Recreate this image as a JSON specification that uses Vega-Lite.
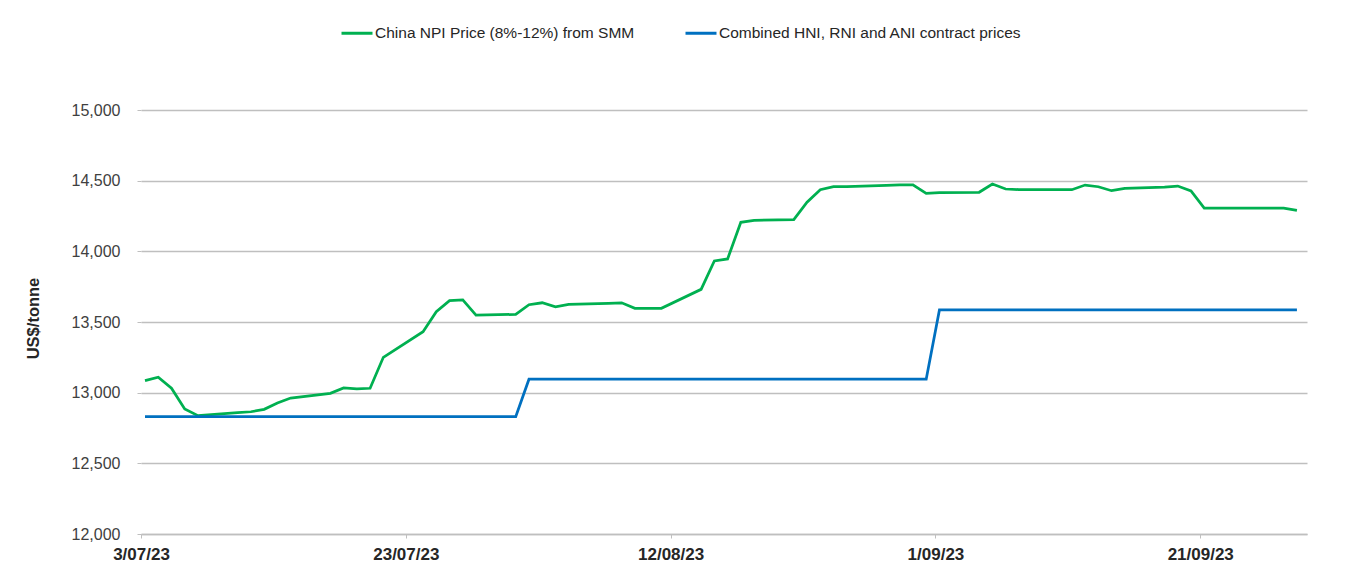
{
  "$schema": "https://vega.github.io/schema/vega-lite/v6.json",
  "width": 1166,
  "height": 424,
  "autosize": {"type": "none"},
  "padding": {"left": 141, "top": 110, "right": 46, "bottom": 39},
  "background": "white",
  "config": {
    "view": {"stroke": null},
    "font": "Liberation Sans"
  },
  "data": {
    "values": [
      {"date": "2023-07-03", "series": "China NPI Price (8%-12%) from SMM", "value": 13085},
      {"date": "2023-07-04", "series": "China NPI Price (8%-12%) from SMM", "value": 13109},
      {"date": "2023-07-05", "series": "China NPI Price (8%-12%) from SMM", "value": 13031},
      {"date": "2023-07-06", "series": "China NPI Price (8%-12%) from SMM", "value": 12884},
      {"date": "2023-07-07", "series": "China NPI Price (8%-12%) from SMM", "value": 12837},
      {"date": "2023-07-10", "series": "China NPI Price (8%-12%) from SMM", "value": 12858},
      {"date": "2023-07-11", "series": "China NPI Price (8%-12%) from SMM", "value": 12865},
      {"date": "2023-07-12", "series": "China NPI Price (8%-12%) from SMM", "value": 12882},
      {"date": "2023-07-13", "series": "China NPI Price (8%-12%) from SMM", "value": 12927},
      {"date": "2023-07-14", "series": "China NPI Price (8%-12%) from SMM", "value": 12962},
      {"date": "2023-07-17", "series": "China NPI Price (8%-12%) from SMM", "value": 12995},
      {"date": "2023-07-18", "series": "China NPI Price (8%-12%) from SMM", "value": 13033},
      {"date": "2023-07-19", "series": "China NPI Price (8%-12%) from SMM", "value": 13026},
      {"date": "2023-07-20", "series": "China NPI Price (8%-12%) from SMM", "value": 13031},
      {"date": "2023-07-21", "series": "China NPI Price (8%-12%) from SMM", "value": 13250},
      {"date": "2023-07-24", "series": "China NPI Price (8%-12%) from SMM", "value": 13431},
      {"date": "2023-07-25", "series": "China NPI Price (8%-12%) from SMM", "value": 13573},
      {"date": "2023-07-26", "series": "China NPI Price (8%-12%) from SMM", "value": 13651},
      {"date": "2023-07-27", "series": "China NPI Price (8%-12%) from SMM", "value": 13656},
      {"date": "2023-07-28", "series": "China NPI Price (8%-12%) from SMM", "value": 13549},
      {"date": "2023-07-31", "series": "China NPI Price (8%-12%) from SMM", "value": 13554},
      {"date": "2023-08-01", "series": "China NPI Price (8%-12%) from SMM", "value": 13622},
      {"date": "2023-08-02", "series": "China NPI Price (8%-12%) from SMM", "value": 13636},
      {"date": "2023-08-03", "series": "China NPI Price (8%-12%) from SMM", "value": 13608},
      {"date": "2023-08-04", "series": "China NPI Price (8%-12%) from SMM", "value": 13625},
      {"date": "2023-08-07", "series": "China NPI Price (8%-12%) from SMM", "value": 13632},
      {"date": "2023-08-08", "series": "China NPI Price (8%-12%) from SMM", "value": 13636},
      {"date": "2023-08-09", "series": "China NPI Price (8%-12%) from SMM", "value": 13597},
      {"date": "2023-08-10", "series": "China NPI Price (8%-12%) from SMM", "value": 13597},
      {"date": "2023-08-11", "series": "China NPI Price (8%-12%) from SMM", "value": 13597},
      {"date": "2023-08-14", "series": "China NPI Price (8%-12%) from SMM", "value": 13731},
      {"date": "2023-08-15", "series": "China NPI Price (8%-12%) from SMM", "value": 13932},
      {"date": "2023-08-16", "series": "China NPI Price (8%-12%) from SMM", "value": 13946},
      {"date": "2023-08-17", "series": "China NPI Price (8%-12%) from SMM", "value": 14205},
      {"date": "2023-08-18", "series": "China NPI Price (8%-12%) from SMM", "value": 14219},
      {"date": "2023-08-21", "series": "China NPI Price (8%-12%) from SMM", "value": 14224},
      {"date": "2023-08-22", "series": "China NPI Price (8%-12%) from SMM", "value": 14347},
      {"date": "2023-08-23", "series": "China NPI Price (8%-12%) from SMM", "value": 14436},
      {"date": "2023-08-24", "series": "China NPI Price (8%-12%) from SMM", "value": 14457},
      {"date": "2023-08-25", "series": "China NPI Price (8%-12%) from SMM", "value": 14458},
      {"date": "2023-08-28", "series": "China NPI Price (8%-12%) from SMM", "value": 14466},
      {"date": "2023-08-29", "series": "China NPI Price (8%-12%) from SMM", "value": 14470},
      {"date": "2023-08-30", "series": "China NPI Price (8%-12%) from SMM", "value": 14471},
      {"date": "2023-08-31", "series": "China NPI Price (8%-12%) from SMM", "value": 14410},
      {"date": "2023-09-01", "series": "China NPI Price (8%-12%) from SMM", "value": 14415},
      {"date": "2023-09-04", "series": "China NPI Price (8%-12%) from SMM", "value": 14418},
      {"date": "2023-09-05", "series": "China NPI Price (8%-12%) from SMM", "value": 14476},
      {"date": "2023-09-06", "series": "China NPI Price (8%-12%) from SMM", "value": 14441},
      {"date": "2023-09-07", "series": "China NPI Price (8%-12%) from SMM", "value": 14437},
      {"date": "2023-09-08", "series": "China NPI Price (8%-12%) from SMM", "value": 14437},
      {"date": "2023-09-11", "series": "China NPI Price (8%-12%) from SMM", "value": 14436},
      {"date": "2023-09-12", "series": "China NPI Price (8%-12%) from SMM", "value": 14469},
      {"date": "2023-09-13", "series": "China NPI Price (8%-12%) from SMM", "value": 14457},
      {"date": "2023-09-14", "series": "China NPI Price (8%-12%) from SMM", "value": 14429},
      {"date": "2023-09-15", "series": "China NPI Price (8%-12%) from SMM", "value": 14446},
      {"date": "2023-09-18", "series": "China NPI Price (8%-12%) from SMM", "value": 14455},
      {"date": "2023-09-19", "series": "China NPI Price (8%-12%) from SMM", "value": 14462},
      {"date": "2023-09-20", "series": "China NPI Price (8%-12%) from SMM", "value": 14427},
      {"date": "2023-09-21", "series": "China NPI Price (8%-12%) from SMM", "value": 14306},
      {"date": "2023-09-22", "series": "China NPI Price (8%-12%) from SMM", "value": 14306},
      {"date": "2023-09-25", "series": "China NPI Price (8%-12%) from SMM", "value": 14306},
      {"date": "2023-09-26", "series": "China NPI Price (8%-12%) from SMM", "value": 14306},
      {"date": "2023-09-27", "series": "China NPI Price (8%-12%) from SMM", "value": 14306},
      {"date": "2023-09-28", "series": "China NPI Price (8%-12%) from SMM", "value": 14290},
      {"date": "2023-07-03", "series": "Combined HNI, RNI and ANI contract prices", "value": 12830},
      {"date": "2023-07-31", "series": "Combined HNI, RNI and ANI contract prices", "value": 12830},
      {"date": "2023-08-01", "series": "Combined HNI, RNI and ANI contract prices", "value": 13095},
      {"date": "2023-08-31", "series": "Combined HNI, RNI and ANI contract prices", "value": 13095},
      {"date": "2023-09-01", "series": "Combined HNI, RNI and ANI contract prices", "value": 13585},
      {"date": "2023-09-28", "series": "Combined HNI, RNI and ANI contract prices", "value": 13585}
    ]
  },
  "mark": {"type": "line", "strokeWidth": 2.75, "interpolate": "linear"},
  "encoding": {
    "x": {
      "field": "date",
      "type": "temporal",
      "scale": {
        "type": "utc",
        "domain": [
          {"year": 2023, "month": 7, "date": 2, "hours": 16, "minutes": 45, "utc": true},
          {"year": 2023, "month": 9, "date": 28, "hours": 18, "minutes": 15, "utc": true}
        ]
      },
      "axis": {
        "title": null,
        "values": [
          {"year": 2023, "month": 7, "date": 3, "utc": true},
          {"year": 2023, "month": 7, "date": 23, "utc": true},
          {"year": 2023, "month": 8, "date": 12, "utc": true},
          {"year": 2023, "month": 9, "date": 1, "utc": true},
          {"year": 2023, "month": 9, "date": 21, "utc": true}
        ],
        "format": "%-d/%m/%y",
        "tickOffset": -4,
        "grid": false,
        "domainColor": "#bfbfbf",
        "domainWidth": 1.5,
        "tickColor": "#bfbfbf",
        "tickSize": 4,
        "labelFont": "Liberation Sans",
        "labelFontWeight": "bold",
        "labelFontSize": 17,
        "labelColor": "#262626",
        "labelPadding": 8,
        "labelFlush": false
      }
    },
    "y": {
      "field": "value",
      "type": "quantitative",
      "scale": {"domain": [12000, 15000], "nice": false, "zero": false},
      "axis": {
        "title": "US$/tonne",
        "values": [12000, 12500, 13000, 13500, 14000, 14500, 15000],
        "format": ",d",
        "grid": true,
        "gridColor": "#bfbfbf",
        "gridWidth": 1.5,
        "domain": false,
        "tickColor": "#bfbfbf",
        "tickSize": 4,
        "labelFont": "Liberation Sans",
        "labelFontSize": 16,
        "labelColor": "#404040",
        "labelPadding": 17,
        "titleFont": "Liberation Sans",
        "titleFontSize": 16.5,
        "titleFontWeight": "bold",
        "titleColor": "#262626",
        "titleAngle": -90,
        "titleX": -108,
        "titleY": 208,
        "titleBaseline": "middle",
        "titleAlign": "center"
      }
    },
    "color": {
      "field": "series",
      "type": "nominal",
      "scale": {
        "domain": ["China NPI Price (8%-12%) from SMM", "Combined HNI, RNI and ANI contract prices"],
        "range": ["#00b050", "#0070c0"]
      },
      "legend": {
        "title": null,
        "orient": "none",
        "legendX": 199,
        "legendY": -94,
        "direction": "horizontal",
        "columns": 2,
        "columnPadding": 44,
        "padding": 0,
        "symbolType": "stroke",
        "symbolSize": 961,
        "symbolStrokeWidth": 3,
        "labelOffset": 1,
        "labelFont": "Liberation Sans",
        "labelFontSize": 15.5,
        "labelColor": "#262626",
        "labelLimit": 400
      }
    }
  }
}
